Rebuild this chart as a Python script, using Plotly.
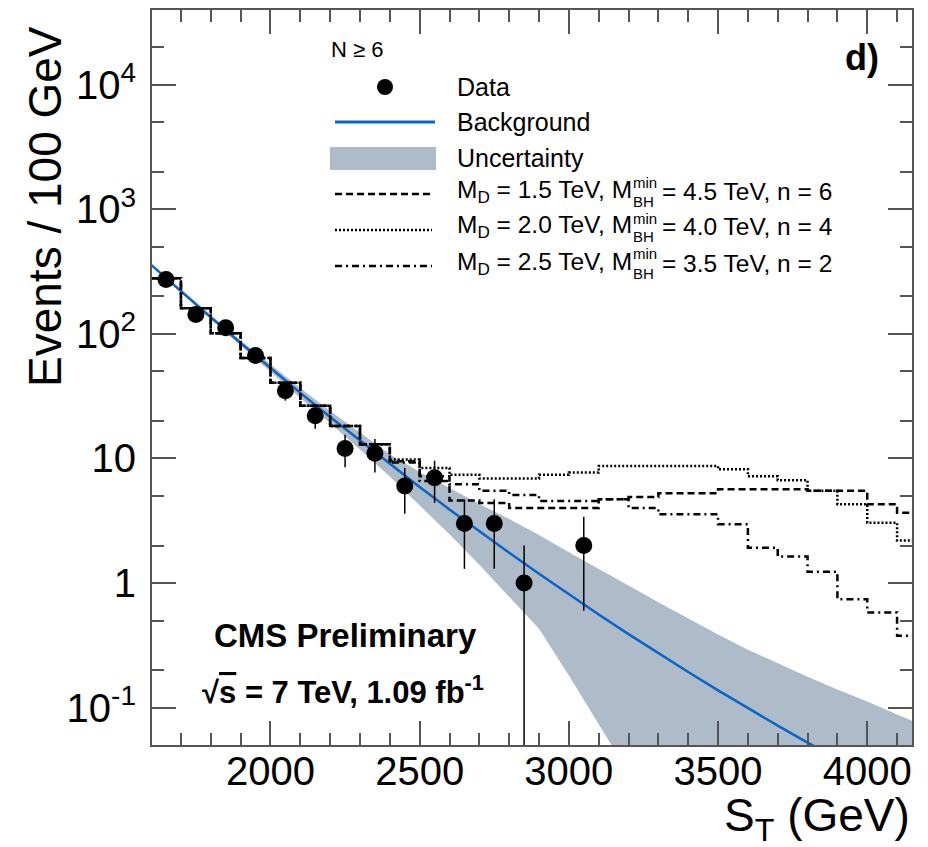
import plotly.graph_objects as go

# ---------------- data ----------------
data_x = [1650, 1750, 1850, 1950, 2050, 2150, 2250, 2350, 2450, 2550, 2650, 2750, 2850, 3050]
data_y = [273, 143, 112, 67, 35, 22, 12, 11, 6, 7, 3, 3, 1, 2]
data_err = [16.5, 12.0, 10.6, 8.2, 5.9, 4.7, 3.5, 3.3, 2.4, 2.6, 1.7, 1.7, 1.0, 1.4]

grid_x = [1600, 1700, 1800, 1900, 2000, 2100, 2200, 2300, 2400, 2500, 2600, 2700, 2800,
          2900, 3000, 3100, 3200, 3300, 3400, 3500, 3600, 3700, 3800, 3900, 4000, 4100, 4200]
bkg_y = [358, 219, 136, 84.5, 53.1, 33.6, 21.5, 13.9, 9.01, 5.90, 3.90, 2.60, 1.75,
         1.186, 0.811, 0.559, 0.389, 0.273, 0.193, 0.1375, 0.0989, 0.0717, 0.0524, 0.0387,
         0.0288, 0.0216, 0.0163]
unc_hi = [362, 224, 141, 88.5, 56.9, 36.8, 24.1, 16.0, 10.8, 7.78, 5.77, 4.32, 3.27,
          2.43, 1.77, 1.31, 0.957, 0.700, 0.519, 0.387, 0.292, 0.227, 0.177, 0.140,
          0.112, 0.088, 0.070]
unc_lo = [352, 214, 131, 80.7, 49.6, 30.6, 19.2, 11.8, 7.16, 4.18, 2.46, 1.40, 0.78,
          0.43, 0.181, 0.0738, 0.030, 0.012, 0.005, 0.002, 0.001, 0.001, 0.001, 0.001,
          0.001, 0.001, 0.001]

hist_edges = grid_x  # 100 GeV bins, 1600..4200
low_common = [280, 161, 101, 64, 40.5, 26.5, 18.2, 13.0]
sig_a = low_common + [9.5, 7.2, 4.6, 4.4, 4.0, 4.0, 4.0, 4.7, 4.9, 5.25, 5.25, 5.65, 5.65,
                      5.65, 5.5, 5.5, 4.3, 3.67]      # M_D=1.5, n=6 (dashed)
sig_b = low_common + [9.8, 8.4, 7.4, 6.9, 6.9, 7.4, 7.7, 8.7, 8.7, 8.7, 8.7, 8.2, 7.2,
                      6.7, 5.5, 4.3, 3.05, 2.2]       # M_D=2.0, n=4 (dotted)
sig_c = low_common + [9.3, 6.6, 6.2, 5.5, 5.1, 4.55, 4.55, 4.7, 4.0, 3.56, 3.56, 2.97, 1.92,
                      1.63, 1.23, 0.74, 0.58, 0.377]  # M_D=2.5, n=2 (dash-dot)

y_tickvals = [0.1, 1, 10, 100, 1000, 10000]
y_ticktext = ["10<sup>-1</sup>", "1", "10", "10<sup>2</sup>", "10<sup>3</sup>", "10<sup>4</sup>"]
x_tickvals = [2000, 2500, 3000, 3500, 4000]

# ---------------- style ----------------
# coordinates below are given in screenshot pixels; the page body adds an 8 px margin
OFF = 8
W, H = 928 - OFF, 847 - OFF
L, R, T, B = 152, 912, 10, 745
FONT = "Liberation Sans, Arial, Helvetica, sans-serif"
BAND = "#adbcc8"
BLUE = "#0b64c8"
AX = "#555555"

def px(x):
    return (x - L) / (R - L)

def py(y):
    return (B - y) / (B - T)

fig = go.Figure()

# uncertainty band
fig.add_trace(go.Scatter(x=grid_x + grid_x[::-1], y=unc_hi + unc_lo[::-1], fill="toself",
                         fillcolor=BAND, line=dict(width=0), mode="lines",
                         hoverinfo="skip", showlegend=False))
# background
fig.add_trace(go.Scatter(x=grid_x, y=bkg_y, mode="lines", line=dict(color=BLUE, width=2.5),
                         showlegend=False))

# signal histograms
def step(vals):
    return hist_edges, vals + [vals[-1]]

for vals, dash in [(sig_a, "7px,4px"), (sig_b, "2px,2px"), (sig_c, "7px,4px,2px,4px")]:
    xs, ys = step(vals)
    fig.add_trace(go.Scatter(x=xs, y=ys, mode="lines", line_shape="hv",
                             line=dict(color="black", width=2.5, dash=dash),
                             showlegend=False))

# data error bars
ex, ey = [], []
for x, y, e in zip(data_x, data_y, data_err):
    ex += [x, x, None]
    ey += [max(y - e, 1e-3), y + e, None]
fig.add_trace(go.Scatter(x=ex, y=ey, mode="lines", line=dict(color="black", width=1.5),
                         showlegend=False, hoverinfo="skip"))
fig.add_trace(go.Scatter(x=data_x, y=data_y, mode="markers",
                         marker=dict(color="black", size=17), showlegend=False))

# ---------------- legend (manual) ----------------
shapes = []
shapes.append(dict(type="circle", xref="paper", yref="paper", x0=px(377), x1=px(393),
                   y0=py(95), y1=py(79), fillcolor="black", line=dict(width=0)))
shapes.append(dict(type="line", xref="paper", yref="paper", x0=px(335), x1=px(435),
                   y0=py(122), y1=py(122), line=dict(color=BLUE, width=3)))
shapes.append(dict(type="rect", xref="paper", yref="paper", x0=px(330), x1=px(436),
                   y0=py(170), y1=py(147), fillcolor=BAND, line=dict(width=0)))
for yy, dash in [(194, "7px,4px"), (230, "2px,2px"), (266, "7px,4px,2px,4px")]:
    shapes.append(dict(type="line", xref="paper", yref="paper", x0=px(335), x1=px(432),
                       y0=py(yy), y1=py(yy), line=dict(color="black", width=2.5, dash=dash)))

ann = []
def text(x, y, s, size, xanchor="left", bold=False, angle=0, yanchor="middle"):
    ann.append(dict(x=px(x), y=py(y), xref="paper", yref="paper", text=s, showarrow=False,
                    xanchor=xanchor, yanchor=yanchor, textangle=angle,
                    font=dict(family=FONT, size=size, color="black",
                              weight="bold" if bold else "normal")))

text(329, 50, "N ≥ 6", 22)
text(455, 87, "Data", 25)
text(455, 122, "Background", 25)
text(455, 158, "Uncertainty", 25)
for yy, md, mbh, n in [(191, "1.5", "4.5", "6"), (227, "2.0", "4.0", "4"), (263, "2.5", "3.5", "2")]:
    text(455, yy, f"M<sub>D</sub> = {md} TeV, M", 24.5)
    text(631, yy - 9, "min", 15)
    text(631, yy + 10, "BH", 15)
    text(660, yy, f"= {mbh} TeV, n = {n}", 24.5)

text(881, 57, "d)", 36, xanchor="right", bold=True)
text(345, 635, "CMS Preliminary", 33, xanchor="center", bold=True)
text(343, 690, "√<span style='text-decoration:overline'>s</span> = 7 TeV, 1.09 fb<sup>-1</sup>",
     31, xanchor="center", bold=True)
text(45, 207, "Events / 100 GeV", 46, xanchor="center", angle=-90)
text(912, 818, "S<sub>T</sub> (GeV)", 46, xanchor="right")

fig.update_layout(
    width=W, height=H, margin=dict(l=L - OFF, r=W - (R - OFF), t=T - OFF, b=H - (B - OFF)),
    paper_bgcolor="white", plot_bgcolor="white",
    shapes=shapes, annotations=ann, showlegend=False,
    font=dict(family=FONT, color="black"),
)
fig.update_xaxes(range=[1603, 4150], tickvals=x_tickvals, ticks="inside", ticklen=24,
                 tickwidth=1.5, tickcolor=AX, showline=True, linecolor=AX, linewidth=2,
                 mirror="allticks", showgrid=False, zeroline=False, automargin=False,
                 tickfont=dict(family=FONT, size=40), ticklabelstandoff=-10,
                 minor=dict(dtick=100, tick0=1600, ticks="inside", ticklen=12,
                            tickwidth=1.5, tickcolor=AX, showgrid=False))
fig.update_yaxes(type="log", range=[-1.3, 4.6], tickvals=y_tickvals, ticktext=y_ticktext,
                 ticks="inside", ticklen=24, tickwidth=1.5, tickcolor=AX, showline=True,
                 linecolor=AX, linewidth=2, mirror="allticks", showgrid=False,
                 zeroline=False, automargin=False, tickfont=dict(family=FONT, size=40),
                 ticklabelstandoff=6,
                 minor=dict(ticks="inside", ticklen=12, tickwidth=1.5, tickcolor=AX,
                            showgrid=False))

fig.write_html("out.html")
